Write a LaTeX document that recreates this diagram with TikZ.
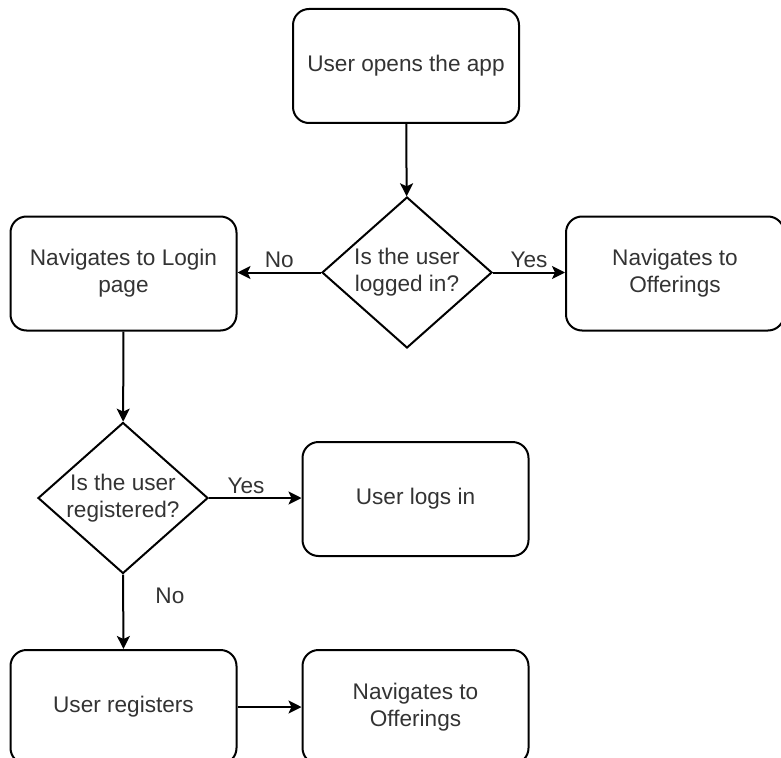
\documentclass[tikz,border=0pt]{standalone}
\usepackage{fontspec}
\setmainfont{Liberation Sans}
\usetikzlibrary{shapes.geometric,arrows.meta}
\definecolor{ink}{HTML}{333333}
\begin{document}
\begin{tikzpicture}[x=1pt,y=-1pt,
  every node/.style={font=\fontsize{22.6}{27}\selectfont, text=ink},
  stepbox/.style={draw=black, line width=2pt, rounded corners=16pt,
    minimum width=226pt, minimum height=114pt, inner sep=0pt, align=center},
  decision/.style={draw=black, line width=2pt, diamond, aspect=1.126,
    minimum width=170pt, minimum height=151pt, inner sep=0pt, align=center},
  arr/.style={line width=2pt, -{Stealth[length=13pt,width=13pt,inset=3pt]}}]
\useasboundingbox (0,0) rectangle (781,757);
\begin{scope}
\clip (0,0) rectangle (781,757);
\node[stepbox] (open) at (406,66) {User opens the app};
\node[decision] (logged) at (407,272.5) {Is the user\\logged in?};
\node[stepbox] (login) at (123.5,273.5) {Navigates to Login\\page};
\node[stepbox, minimum width=218pt] (offer1) at (675,273.5) {Navigates to\\Offerings};
\node[decision] (reg) at (123,498) {Is the user\\registered?};
\node[stepbox] (logsin) at (415.5,499) {User logs in};
\node[stepbox] (register) at (123.5,707) {User registers};
\node[stepbox] (offer2) at (415.5,707) {Navigates to\\Offerings};

\draw[arr] (open) -- (logged);
\draw[arr] (logged.west) -- node[above] {No} (login.east |- logged.west);
\draw[arr] (logged.east) -- node[above] {Yes} (offer1.west |- logged.east);
\draw[arr] (login) -- (reg);
\draw[arr] (reg.east) -- node[above, pos=0.4] {Yes} (logsin.west |- reg.east);
\draw[arr] (reg.south) -- node[pos=0.29, right=28pt] {No} (register.north);
\draw[arr] (register.east) -- (offer2.west);
\end{scope}
\end{tikzpicture}
\end{document}
